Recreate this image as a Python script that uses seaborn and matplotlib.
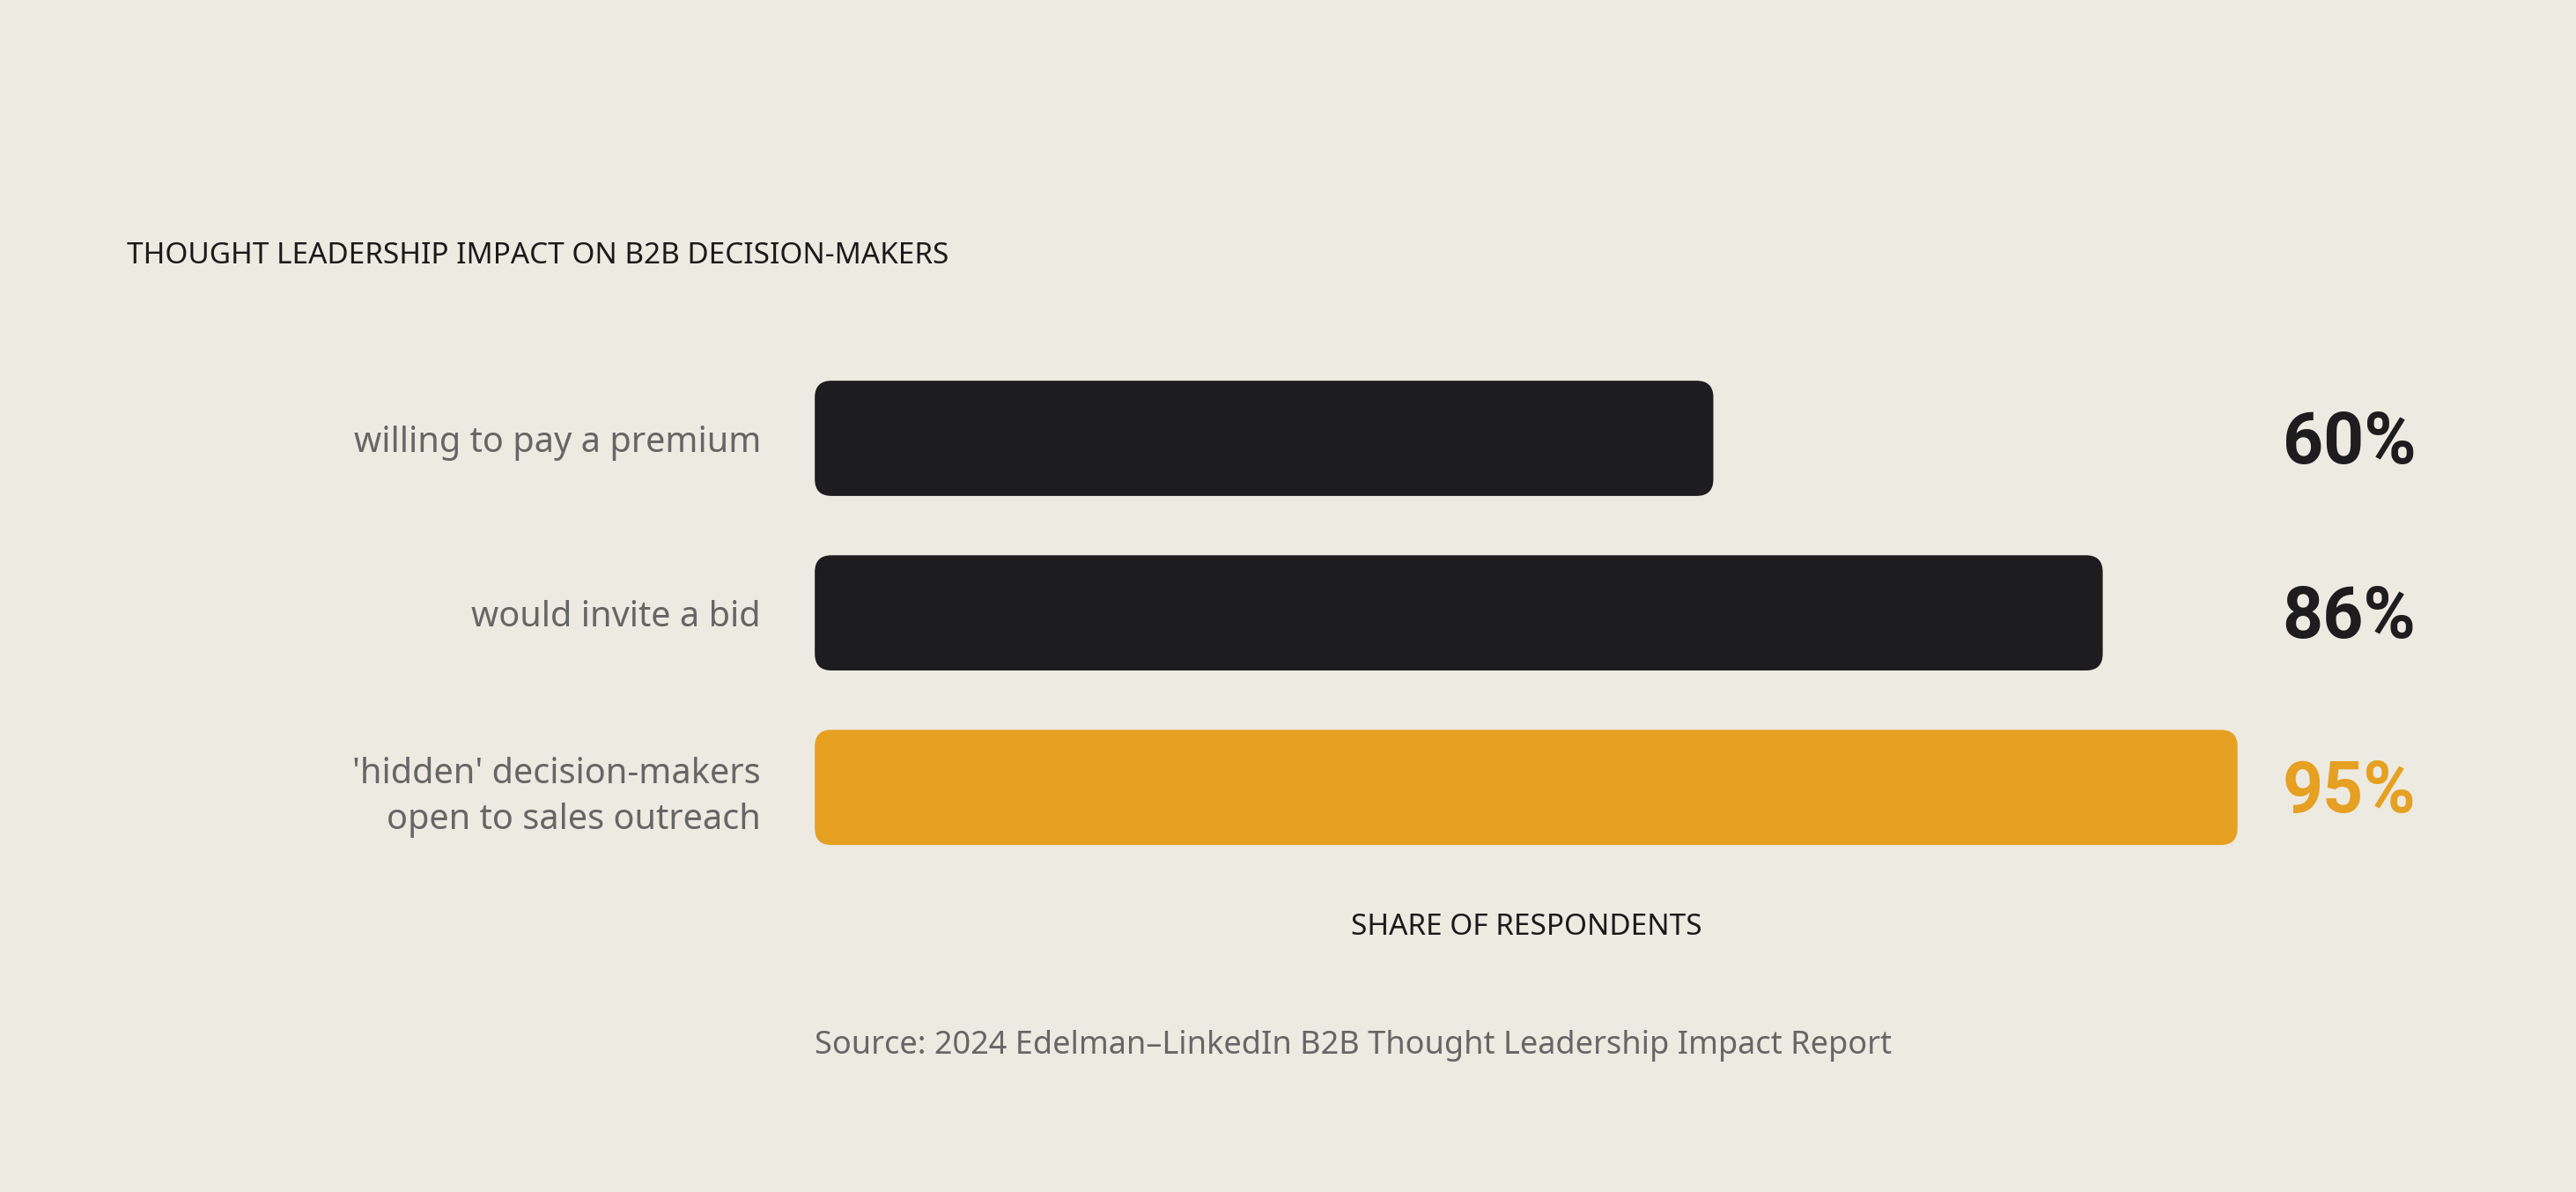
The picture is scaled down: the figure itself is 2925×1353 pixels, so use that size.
import seaborn as sns
import matplotlib.pyplot as plt
from matplotlib.patches import FancyBboxPatch
import matplotlib.transforms as mtransforms

# data
categories = ["willing to pay a premium", "would invite a bid",
              "'hidden' decision-makers\nopen to sales outreach"]
values = [60, 86, 95]
value_labels = ["60%", "86%", "95%"]
bar_colors = ["#1d1d1f", "#1d1d1f", "#e6a022"]
label_colors = ["#1d1d1f", "#1d1d1f", "#e6a022"]

title = "THOUGHT LEADERSHIP IMPACT ON B2B DECISION-MAKERS"
xlabel = "SHARE OF RESPONDENTS"
source = "Source: 2024 Edelman\u2013LinkedIn B2B Thought Leadership Impact Report"

bg = "#edeae2"
sns.set_theme(style="white")
plt.rcParams["font.family"] = ["Noto Sans", "DejaVu Sans"]

fig = plt.figure(figsize=(14.625, 6.765), dpi=200, facecolor=bg)
ax = fig.add_axes([0.3163, 0.2662, 0.5523, 0.4393])
ax.set_facecolor(bg)

sns.barplot(x=values, y=categories, hue=categories, palette=bar_colors,
            orient="h", width=0.66, legend=False, saturation=1, ax=ax)
ax.set_xlim(0, max(values))
ax.set_ylim(2.5, -0.5)

# swap plain bars for rounded ones
fig.canvas.draw()
bb = ax.get_window_extent()
xu = (ax.get_xlim()[1] - ax.get_xlim()[0]) / bb.width
yu = abs(ax.get_ylim()[1] - ax.get_ylim()[0]) / bb.height
radius_px = 19
for p in list(ax.patches):
    x, y = p.get_x(), p.get_y()
    w, h = p.get_width(), p.get_height()
    rounded = FancyBboxPatch((x, y), w, h,
                             boxstyle=f"round,pad=0,rounding_size={radius_px * xu}",
                             mutation_aspect=yu / xu,
                             facecolor=p.get_facecolor(), edgecolor="none")
    p.remove()
    ax.add_patch(rounded)

# value labels to the right, baseline set so digits sit centred on the bar
trans = mtransforms.blended_transform_factory(ax.transAxes, ax.transData)
trans = mtransforms.offset_copy(trans, fig=fig, y=-28, units="dots")
for i, (lab, c) in enumerate(zip(value_labels, label_colors)):
    ax.text(1.1255, i, lab, transform=trans, ha="right", va="baseline",
            fontsize=29, fontweight="bold", color=c,
            family=["Roboto", "DejaVu Sans"])

sns.despine(ax=ax, left=True, bottom=True)
ax.set_xticks([])
ax.tick_params(axis="y", length=0, pad=22, labelsize=14.3, labelcolor="#666666")
for t in ax.get_yticklabels():
    t.set_linespacing(1.4)

ax.set_ylabel("")
ax.set_xlabel(xlabel, fontsize=12, color="#1a1a1a")
ax.xaxis.set_label_coords(0.5, -0.1)
ax.xaxis.label.set_va("center")

fig.text(0.0491, 0.785, title, fontsize=12, color="#1a1a1a", va="center", ha="left")
fig.text(0.3163, 0.1227, source, fontsize=13, color="#666666", va="center", ha="left")

fig.savefig("out.png", dpi=200, facecolor=bg)
